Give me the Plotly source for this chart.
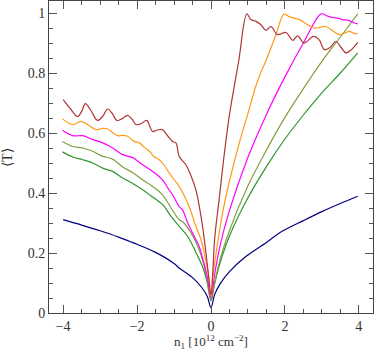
import plotly.graph_objects as go

# transmission curves
red_x = [-4.0, -3.8, -3.61, -3.5, -3.4, -3.25, -3.07, -2.93, -2.8, -2.67, -2.55, -2.4, -2.26, -2.13,
         -2.03, -1.88, -1.74, -1.58, -1.45, -1.31, -1.17, -1.04, -0.95, -0.86, -0.68, -0.55, -0.41,
         -0.27, -0.18, -0.08, 0.0, 0.05, 0.1, 0.22, 0.35, 0.5, 0.75, 0.97, 1.08, 1.22, 1.35, 1.49,
         1.62, 1.8, 2.03, 2.21, 2.34, 2.52, 2.77, 2.92, 3.07, 3.22, 3.38, 3.52, 3.65, 3.8, 3.97]
red_y = [0.711, 0.68, 0.655, 0.672, 0.698, 0.675, 0.642, 0.655, 0.68, 0.665, 0.642, 0.648, 0.659, 0.645,
         0.628, 0.632, 0.642, 0.605, 0.61, 0.611, 0.59, 0.572, 0.567, 0.522, 0.494, 0.46, 0.411,
         0.322, 0.244, 0.14, 0.06, 0.14, 0.25, 0.378, 0.52, 0.661, 0.84, 0.997, 0.978, 0.972, 0.961, 0.942,
         0.955, 0.928, 0.935, 0.909, 0.924, 0.9, 0.922, 0.912, 0.878, 0.885, 0.905, 0.885, 0.867, 0.878, 0.902]

orange_x = [-4.02, -3.74, -3.52, -3.3, -3.11, -2.95, -2.8, -2.65, -2.53, -2.4, -2.26, -2.08, -1.94,
            -1.8, -1.67, -1.53, -1.4, -1.25, -1.13, -1.0, -0.86, -0.72, -0.59, -0.41, -0.27, -0.15,
            -0.06, 0.0, 0.06, 0.15, 0.3, 0.5, 0.75, 0.99, 1.25, 1.5, 1.75, 1.98, 2.12, 2.39, 2.6,
            2.79, 2.95, 3.11, 3.3, 3.47, 3.6, 3.74, 3.87, 3.97]
orange_y = [0.647, 0.628, 0.639, 0.625, 0.611, 0.615, 0.614, 0.6, 0.591, 0.592, 0.589, 0.572, 0.567,
            0.552, 0.539, 0.52, 0.511, 0.49, 0.467, 0.445, 0.422, 0.39, 0.355, 0.289, 0.244, 0.18,
            0.12, 0.055, 0.13, 0.21, 0.325, 0.44, 0.56, 0.661, 0.77, 0.845, 0.925, 0.997, 0.987, 0.978, 0.962,
            0.95, 0.952, 0.955, 0.94, 0.928, 0.932, 0.939, 0.932, 0.93]

magenta_x = [-4.02, -3.74, -3.47, -3.2, -2.93, -2.66, -2.39, -2.12, -1.85, -1.58, -1.31, -1.17, -1.04,
             -0.86, -0.77, -0.63, -0.45, -0.32, -0.2, -0.1, 0.0, 0.1, 0.25, 0.5, 1.0, 1.5, 2.0, 2.5,
             2.98, 3.15, 3.29, 3.45, 3.56, 3.7, 3.79, 3.9, 3.97]
magenta_y = [0.609, 0.591, 0.591, 0.578, 0.567, 0.55, 0.528, 0.518, 0.494, 0.472, 0.444, 0.417, 0.394,
             0.355, 0.344, 0.3, 0.255, 0.222, 0.17, 0.12, 0.05, 0.13, 0.227, 0.342, 0.519, 0.662, 0.787, 0.9,
             0.997, 0.99, 0.985, 0.982, 0.978, 0.976, 0.972, 0.966, 0.964]

olive_x = [-4.02, -3.74, -3.47, -3.2, -2.93, -2.66, -2.39, -2.12, -1.85, -1.58, -1.31, -1.08, -0.86,
           -0.77, -0.54, -0.35, -0.2, -0.1, 0.0, 0.1, 0.25, 0.5, 1.0, 1.5, 2.0, 2.5, 3.0, 3.5, 3.97]
olive_y = [0.572, 0.555, 0.55, 0.539, 0.522, 0.513, 0.487, 0.468, 0.444, 0.422, 0.394, 0.35, 0.311,
           0.305, 0.267, 0.22, 0.165, 0.11, 0.045, 0.102, 0.18, 0.275, 0.424, 0.543, 0.652, 0.748, 0.839, 0.92, 0.997]

green_x = [-4.02, -3.74, -3.47, -3.2, -2.93, -2.66, -2.39, -2.12, -1.85, -1.62, -1.31, -1.08, -0.86,
           -0.63, -0.4, -0.2, -0.1, 0.0, 0.1, 0.25, 0.5, 1.0, 1.5, 2.0, 2.5, 3.0, 3.5, 3.97]
green_y = [0.537, 0.52, 0.511, 0.5, 0.483, 0.472, 0.45, 0.432, 0.411, 0.39, 0.361, 0.322, 0.289,
           0.255, 0.2, 0.145, 0.1, 0.04, 0.099, 0.169, 0.257, 0.384, 0.488, 0.58, 0.66, 0.734, 0.8, 0.867]

blue_x = [-4.0, -3.5, -3.0, -2.5, -2.21, -2.0, -1.5, -1.0, -0.86, -0.5, -0.25, -0.1, 0.0, 0.1, 0.25,
          0.5, 0.95, 1.5, 1.85, 2.5, 3.0, 3.5, 3.97]
blue_y = [0.311, 0.293, 0.274, 0.253, 0.239, 0.229, 0.202, 0.165, 0.15, 0.118, 0.085, 0.055, 0.018,
          0.062, 0.098, 0.138, 0.189, 0.235, 0.267, 0.308, 0.338, 0.365, 0.389]

series = [
    (blue_x, blue_y, "#000080"),
    (green_x, green_y, "#2E962E"),
    (olive_x, olive_y, "#7FA040"),
    (magenta_x, magenta_y, "#FF00FF"),
    (orange_x, orange_y, "#FF9A1A"),
    (red_x, red_y, "#B03535"),
]

fig = go.Figure()

for xs, ys, col in series:
    fig.add_trace(go.Scatter(
        x=xs, y=ys, mode="lines",
        line=dict(color=col, width=1.2, shape="spline", smoothing=1.0),
        showlegend=False, hoverinfo="skip"
    ))

axis_style = dict(
    showline=True, linecolor="#444", linewidth=1, mirror="allticks",
    ticks="inside", ticklen=8, tickcolor="#555", tickwidth=1,
    showgrid=False, zeroline=False,
    tickfont=dict(family="Liberation Serif", size=14, color="#333"),
)

fig.update_layout(
    width=374, height=351,
    margin=dict(l=49, r=1, t=1, b=38),
    plot_bgcolor="white", paper_bgcolor="white",
    xaxis=dict(range=[-4.383, 4.383], tickvals=[-4, -2, 0, 2, 4],
               minor=dict(dtick=0.5, ticks="inside", ticklen=4, tickcolor="#555"),
               **axis_style),
    yaxis=dict(range=[0, 1.04], tickvals=[0, 0.2, 0.4, 0.6, 0.8, 1],
               ticktext=["0", "0.2", "0.4", "0.6", "0.8", "1"],
               minor=dict(dtick=0.05, ticks="inside", ticklen=4, tickcolor="#555"),
               **axis_style),
    annotations=[
        dict(text="n<sub>1</sub> [10<sup>12</sup> cm<sup>−2</sup>]", xref="paper", yref="paper",
             x=0.5, y=-0.093, xanchor="center", yanchor="middle", showarrow=False,
             font=dict(family="Liberation Serif", size=13, color="#333")),
        dict(text="⟨T⟩", xref="paper", yref="paper", x=-0.13, y=0.5, textangle=-90,
             xanchor="center", yanchor="middle", showarrow=False,
             font=dict(family="Liberation Serif", size=14, color="#333")),
    ],
)

# page has a default 8px body margin; drop it so the figure sits at the corner
fig.write_html("out.html", config={"displayModeBar": False},
               post_script="document.body.style.margin='0';")
